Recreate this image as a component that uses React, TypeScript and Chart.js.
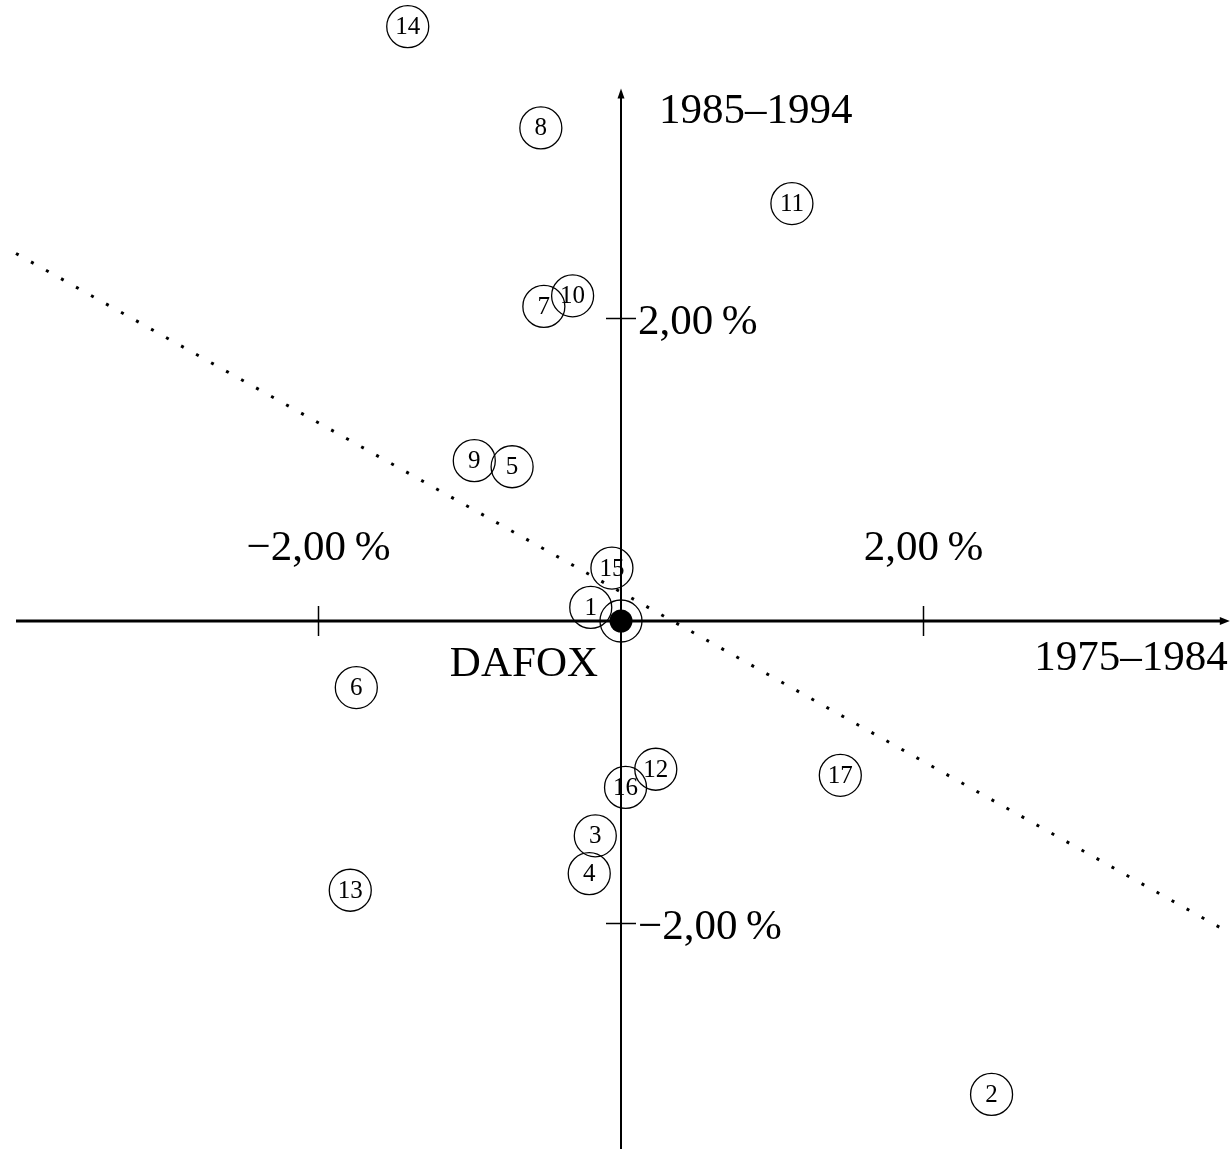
import React, { useEffect, useRef } from "react";
import { Chart, registerables } from "chart.js";

Chart.register(...registerables);

// Country numbers and their mean returns (%) in the two decades
const pointIds = ["14", "8", "11", "7", "10", "9", "5", "15", "1", "6", "12", "16", "17", "3", "4", "13", "2"];
const returns7584 = [-1.41, -0.53, 1.13, -0.51, -0.32, -0.97, -0.72, -0.06, -0.2, -1.75, 0.23, 0.03, 1.45, -0.17, -0.21, -1.79, 2.45];
const returns8594 = [3.93, 3.26, 2.76, 2.08, 2.15, 1.06, 1.02, 0.35, 0.09, -0.44, -0.98, -1.1, -1.02, -1.42, -1.67, -1.78, -3.13];

// Index reference point
const indexName = "DAFOX";
const indexPoint = { x: 0, y: 0 };

// Regression line endpoints
const fitX = [-4.0, 4.02];
const fitY = [2.43, -2.06];

// Axis ticks
const tickValues = [-2, 2];
const tickLabels = ["\u22122,00\u2009%", "2,00\u2009%"];
const xAxisTitle = "1975\u20131984";
const yAxisTitle = "1985\u20131994";

const FONT = '"Liberation Serif", "Times New Roman", serif';

const axesPlugin = {
  id: "crossAxes",
  beforeDatasetsDraw(chart: any) {
    const { ctx, scales } = chart;
    const xs = scales.x;
    const ys = scales.y;
    const ox = xs.getPixelForValue(0);
    const oy = ys.getPixelForValue(0);
    const xStart = xs.getPixelForValue(-4.0);
    const xEnd = xs.getPixelForValue(4.025);
    const yStart = ys.getPixelForValue(-3.5);
    const yEnd = ys.getPixelForValue(3.52);
    ctx.save();
    ctx.strokeStyle = "#000";
    ctx.fillStyle = "#000";
    // horizontal axis
    ctx.lineWidth = 3;
    ctx.beginPath();
    ctx.moveTo(xStart, oy);
    ctx.lineTo(xEnd - 6, oy);
    ctx.stroke();
    ctx.beginPath();
    ctx.moveTo(xEnd, oy);
    ctx.lineTo(xEnd - 10, oy - 4);
    ctx.lineTo(xEnd - 10, oy + 4);
    ctx.closePath();
    ctx.fill();
    // vertical axis
    ctx.lineWidth = 2;
    ctx.beginPath();
    ctx.moveTo(ox, yStart);
    ctx.lineTo(ox, yEnd + 6);
    ctx.stroke();
    ctx.beginPath();
    ctx.moveTo(ox, yEnd);
    ctx.lineTo(ox - 3.5, yEnd + 10);
    ctx.lineTo(ox + 3.5, yEnd + 10);
    ctx.closePath();
    ctx.fill();
    // ticks
    ctx.lineWidth = 1.5;
    tickValues.forEach((v) => {
      const px = xs.getPixelForValue(v);
      ctx.beginPath();
      ctx.moveTo(px, oy - 15);
      ctx.lineTo(px, oy + 15);
      ctx.stroke();
      const py = ys.getPixelForValue(v);
      ctx.beginPath();
      ctx.moveTo(ox - 15, py);
      ctx.lineTo(ox + 15, py);
      ctx.stroke();
    });
    // tick labels
    ctx.font = `43px ${FONT}`;
    ctx.textBaseline = "alphabetic";
    tickValues.forEach((v, i) => {
      const px = xs.getPixelForValue(v);
      ctx.textAlign = "center";
      ctx.fillText(tickLabels[i], px, oy - 61);
      const py = ys.getPixelForValue(v);
      ctx.textAlign = "left";
      ctx.fillText(tickLabels[i], ox + 17, py + 15);
    });
    // axis titles
    ctx.textAlign = "right";
    ctx.fillText(xAxisTitle, xEnd - 2, oy + 49);
    ctx.textAlign = "left";
    ctx.fillText(yAxisTitle, ox + 38, yEnd + 34);
    ctx.textAlign = "right";
    ctx.fillText(indexName, ox - 23, oy + 55);
    ctx.restore();
  },
  afterDatasetsDraw(chart: any) {
    const { ctx } = chart;
    const meta = chart.getDatasetMeta(0);
    ctx.save();
    ctx.fillStyle = "#000";
    ctx.font = `25px ${FONT}`;
    ctx.textAlign = "center";
    ctx.textBaseline = "middle";
    meta.data.forEach((el: any, i: number) => {
      ctx.fillText(pointIds[i], el.x, el.y + 1);
    });
    ctx.restore();
  },
};

export default function App() {
  const canvasRef = useRef<HTMLCanvasElement | null>(null);

  useEffect(() => {
    const canvas = canvasRef.current;
    if (!canvas) return;
    const chart = new Chart(canvas, {
      type: "scatter",
      data: {
        datasets: [
          {
            data: pointIds.map((_, i) => ({ x: returns7584[i], y: returns8594[i] })),
            pointRadius: 21,
            pointHoverRadius: 21,
            pointBorderWidth: 1.3,
            pointBorderColor: "#000",
            pointBackgroundColor: "rgba(0,0,0,0)",
            clip: false,
          },
          {
            data: [indexPoint],
            pointRadius: 21,
            pointBorderWidth: 1.3,
            pointBorderColor: "#000",
            pointBackgroundColor: "rgba(0,0,0,0)",
          },
          {
            data: [indexPoint],
            pointRadius: 11.5,
            pointBorderWidth: 0,
            pointBackgroundColor: "#000",
          },
          {
            type: "line",
            data: fitX.map((x, i) => ({ x, y: fitY[i] })),
            showLine: true,
            borderColor: "#000",
            borderWidth: 3,
            borderDash: [3, 14.2],
            pointRadius: 0,
          } as any,
        ],
      },
      options: {
        responsive: false,
        animation: false,
        events: [],
        layout: { padding: 0, autoPadding: false },
        plugins: { legend: { display: false }, tooltip: { enabled: false } },
        scales: {
          x: { type: "linear", display: false, min: -621 / 151.25, max: 610 / 151.25 },
          y: { type: "linear", display: false, min: -528 / 151.25, max: 621 / 151.25 },
        },
      },
      plugins: [axesPlugin],
    });
    return () => chart.destroy();
  }, []);

  return (
    <div style={{ position: "absolute", left: 0, top: 0, width: 1231, height: 1149, background: "#fff" }}>
      <canvas ref={canvasRef} width={1231} height={1149} />
    </div>
  );
}
